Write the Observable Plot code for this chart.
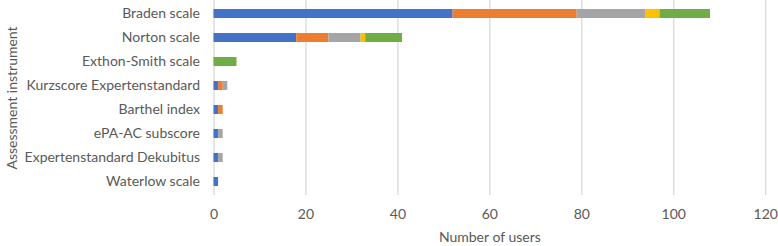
<!DOCTYPE html>
<html>
<head>
<meta charset="utf-8">
<script src="https://cdn.jsdelivr.net/npm/d3@7"></script>
<script src="https://cdn.jsdelivr.net/npm/@observablehq/plot@0.6"></script>
<style>
  html, body { margin: 0; padding: 0; background: #fff; }
  #chart { width: 778px; height: 246px; }
  #chart svg { overflow: visible; }
</style>
</head>
<body>
<div id="chart"></div>
<script>
const instruments = [
  "Braden scale",
  "Norton scale",
  "Exthon-Smith scale",
  "Kurzscore Expertenstandard",
  "Barthel index",
  "ePA-AC subscore",
  "Expertenstandard Dekubitus",
  "Waterlow scale"
];
const seriesNames = ["Series 1", "Series 2", "Series 3", "Series 4", "Series 5"];
const seriesColors = ["#4472C4", "#ED7D31", "#A5A5A5", "#FFC000", "#70AD47"];
const series1 = [52, 18, 0, 1, 1, 1, 1, 1];
const series2 = [27, 7, 0, 1, 1, 0, 0, 0];
const series3 = [15, 7, 0, 1, 0, 1, 1, 0];
const series4 = [3, 1, 0, 0, 0, 0, 0, 0];
const series5 = [11, 8, 5, 0, 0, 0, 0, 0];
const xTicks = [0, 20, 40, 60, 80, 100, 120];

const allSeries = [series1, series2, series3, series4, series5];
const data = [];
allSeries.forEach((vals, si) => {
  vals.forEach((v, i) => {
    if (v > 0) data.push({instrument: instruments[i], series: seriesNames[si], value: v});
  });
});

const chart = Plot.plot({
  width: 778,
  height: 246,
  marginLeft: 213.5,
  marginRight: 12.8,
  marginTop: 0,
  marginBottom: 51,
  style: {fontFamily: "Lato, sans-serif", fontSize: "14px", color: "#595959", background: "#fff"},
  x: {domain: [0, 120]},
  y: {domain: instruments, paddingInner: 0.64, paddingOuter: 0.32},
  color: {domain: seriesNames, range: seriesColors},
  marks: [
    Plot.gridX(xTicks, {stroke: "#d9d9d9", strokeOpacity: 1, strokeWidth: 1.3}),
    Plot.barX(data, {x: "value", y: "instrument", fill: "series", order: seriesNames, inset: 0}),
    Plot.axisX({ticks: xTicks, tickSize: 0, tickPadding: 14, label: "Number of users", labelAnchor: "center", labelArrow: "none", labelOffset: 46, fill: "#595959", fontSize: 14}),
    Plot.axisY({tickSize: 0, tickPadding: 14, label: "Assessment instrument", labelAnchor: "center", labelArrow: "none", labelOffset: 207, fill: "#595959", fontSize: 14})
  ]
});
document.getElementById("chart").appendChild(chart);
</script>
</body>
</html>
